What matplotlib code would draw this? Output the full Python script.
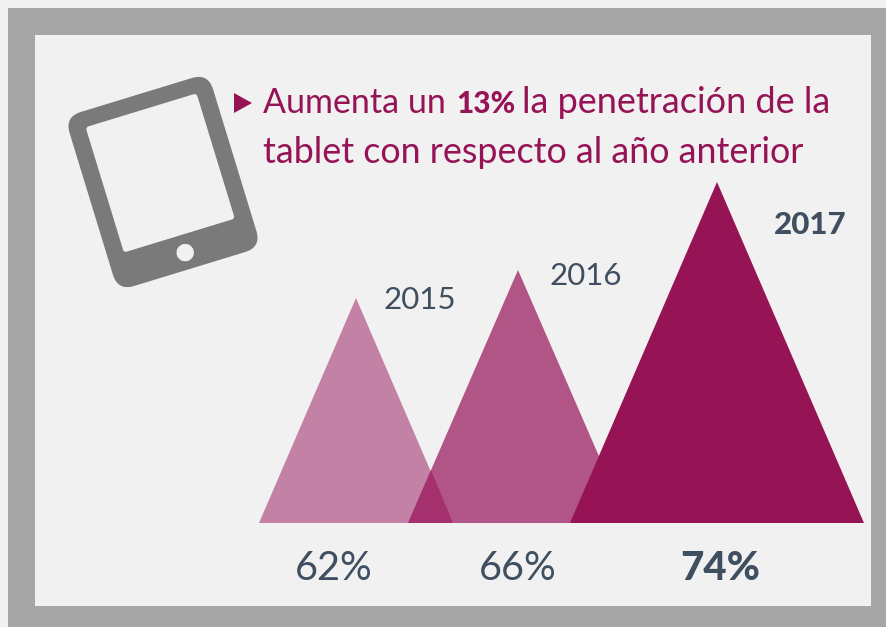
import matplotlib
matplotlib.use("Agg")
import matplotlib.pyplot as plt
from matplotlib.patches import FancyBboxPatch, Rectangle, Circle, Polygon
from matplotlib.transforms import Affine2D

# Datos
years = ["2015", "2016", "2017"]
value_labels = ["62%", "66%", "74%"]
colors = ["#c481a6", "#b05585", "#961356"]
centers = [356, 518, 717]
half_widths = [97, 110, 147]
tops = [298, 270, 182]
bold = [False, False, True]

W, H = 886, 627
FONT = ["Lato", "DejaVu Sans"]
TEXT = "#3f4f5f"
WINE = "#961356"
BG = "#f1f1f1"

fig = plt.figure(figsize=(W / 100, H / 100), dpi=100, facecolor=BG)
ax = fig.add_axes([0, 0, 1, 1])
ax.set_xlim(0, W)
ax.set_ylim(H, 0)
ax.axis("off")

# Marco
ax.add_patch(Rectangle((8, 8), W - 8, H - 8, facecolor="#a6a6a6", edgecolor="none", zorder=0))
ax.add_patch(Rectangle((35, 35), 836, 571, facecolor=BG, edgecolor="none", zorder=1))

# Triangulos
base_y = 523
for c, hw, top, col in zip(centers, half_widths, tops, colors):
    ax.add_patch(Polygon([(c - hw, base_y), (c, top), (c + hw, base_y)],
                         closed=True, facecolor=col, edgecolor="none", zorder=3))
# zona de solape 2015/2016
ax.add_patch(Polygon([(408, 523), (431, 470), (453, 523)], closed=True,
                     facecolor="#a4306d", edgecolor="none", zorder=4))

# Tablet
rot = Affine2D().rotate_deg_around(163, 182, -17) + ax.transData
ax.add_patch(FancyBboxPatch((88, 91), 150, 182, boxstyle="round,pad=0,rounding_size=17",
                            facecolor="#7a7a7a", edgecolor="none", transform=rot, zorder=3))
ax.add_patch(FancyBboxPatch((105, 107), 116, 131, boxstyle="round,pad=0,rounding_size=3",
                            facecolor=BG, edgecolor="none", transform=rot, zorder=4))
ax.add_patch(Circle((163.6, 256), 8.7, facecolor=BG, edgecolor="none", transform=rot, zorder=4))

# Titulo
ax.add_patch(Polygon([(234, 93), (252, 103), (234, 113)], closed=True, facecolor=WINE, edgecolor="none", zorder=5))
ax.text(263, 113, "Aumenta un", color=WINE, fontsize=24.5, family=FONT, va="baseline", zorder=5)
ax.text(456, 113, "13%", color=WINE, fontsize=21.5, family=FONT, weight="black", va="baseline", zorder=5)
ax.text(522, 113, "la penetración de la", color=WINE, fontsize=26, family=FONT, va="baseline", zorder=5)
ax.text(263, 163, "tablet con respecto al año anterior", color=WINE, fontsize=25.8, family=FONT,
        va="baseline", zorder=5)

# Etiquetas
year_pos = [(420, 309), (586, 285), (810, 234)]
for (px, py), y, b in zip(year_pos, years, bold):
    ax.text(px, py, y, color=TEXT, fontsize=22.5, family=FONT, ha="center", va="baseline",
            weight="black" if b else "normal", zorder=5)
val_pos = [334, 518, 720]
for px, v, b, s in zip(val_pos, value_labels, bold, [28.5, 28.5, 29]):
    ax.text(px, 580, v, color=TEXT, fontsize=s, family=FONT, ha="center", va="baseline",
            weight="black" if b else "normal", zorder=5)

fig.savefig("out.png", dpi=100, facecolor=fig.get_facecolor())
